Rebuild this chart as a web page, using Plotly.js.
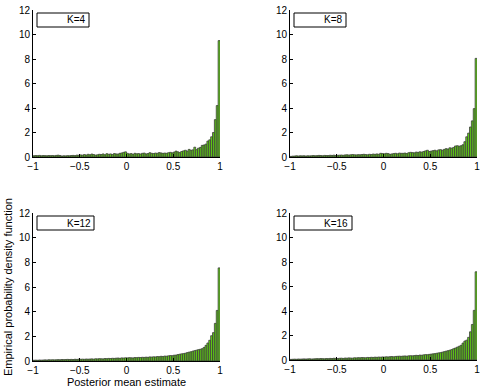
<!DOCTYPE html>
<html>
<head>
<meta charset="utf-8">
<script src="https://cdn.plot.ly/plotly-3.0.1.min.js"></script>
<style>
  html, body { margin: 0; padding: 0; background: #fff; }
  #chart { width: 485px; height: 389px; }
</style>
</head>
<body>
<div id="chart"></div>
<script>
// histogram bins: 100 bins of width 0.02 on [-1, 1]
var binStart = -0.99;
var binWidth = 0.02;

var panelLabels = ['K=4', 'K=8', 'K=12', 'K=16'];
var xTicks = [-1, -0.5, 0, 0.5, 1];
var xTickText = ['\u22121', '\u22120.5', '0', '0.5', '1'];
var yTicks = [0, 2, 4, 6, 8, 10, 12];

var densK4 = [
  0.10,0.12,0.11,0.13,0.10,0.12,0.11,0.10,0.12,0.11,
  0.12,0.10,0.13,0.15,0.12,0.08,0.10,0.09,0.11,0.10,
  0.12,0.13,0.11,0.15,0.14,0.17,0.15,0.20,0.16,0.22,
  0.18,0.24,0.20,0.15,0.18,0.22,0.20,0.25,0.18,0.27,
  0.22,0.25,0.20,0.28,0.25,0.24,0.30,0.33,0.38,0.42,
  0.30,0.25,0.28,0.22,0.30,0.26,0.28,0.24,0.30,0.32,
  0.25,0.28,0.35,0.30,0.28,0.32,0.30,0.36,0.33,0.30,
  0.32,0.30,0.35,0.38,0.34,0.40,0.48,0.42,0.36,0.45,
  0.50,0.55,0.48,0.62,0.55,0.58,0.80,0.60,0.72,0.78,
  0.95,0.98,1.05,1.30,1.40,1.65,2.00,3.05,4.20,9.50
];
var densK8 = [
  0.05,0.07,0.08,0.10,0.08,0.10,0.09,0.10,0.08,0.10,
  0.09,0.10,0.12,0.10,0.11,0.13,0.12,0.10,0.13,0.12,
  0.12,0.14,0.13,0.15,0.12,0.14,0.15,0.16,0.14,0.17,
  0.18,0.16,0.18,0.20,0.18,0.17,0.19,0.18,0.20,0.22,
  0.20,0.18,0.22,0.20,0.24,0.22,0.25,0.22,0.30,0.28,
  0.26,0.30,0.28,0.22,0.25,0.28,0.30,0.26,0.32,0.30,
  0.30,0.32,0.28,0.35,0.38,0.36,0.34,0.40,0.38,0.42,
  0.40,0.45,0.50,0.55,0.45,0.48,0.52,0.55,0.50,0.58,
  0.60,0.55,0.62,0.68,0.65,0.75,0.72,0.78,0.90,0.92,
  0.88,0.92,1.00,1.25,1.65,1.95,2.45,2.95,3.95,8.05
];
var densK12 = [
  0.06,0.07,0.06,0.08,0.07,0.08,0.09,0.08,0.10,0.09,
  0.10,0.09,0.10,0.11,0.10,0.12,0.11,0.12,0.13,0.12,
  0.13,0.12,0.14,0.13,0.15,0.14,0.15,0.14,0.16,0.15,
  0.16,0.17,0.15,0.18,0.17,0.19,0.18,0.17,0.20,0.19,
  0.21,0.20,0.22,0.21,0.23,0.24,0.22,0.25,0.24,0.26,
  0.25,0.27,0.26,0.25,0.28,0.27,0.29,0.28,0.30,0.29,
  0.31,0.30,0.33,0.32,0.34,0.33,0.36,0.35,0.38,0.37,
  0.40,0.39,0.42,0.44,0.43,0.47,0.48,0.52,0.55,0.58,
  0.60,0.63,0.68,0.72,0.75,0.80,0.84,0.88,0.92,0.95,
  1.00,1.10,1.27,1.46,1.68,2.05,2.30,3.05,4.10,7.55
];
var densK16 = [
  0.05,0.06,0.07,0.06,0.08,0.07,0.08,0.09,0.08,0.09,
  0.10,0.08,0.09,0.10,0.11,0.10,0.12,0.11,0.10,0.12,
  0.11,0.13,0.12,0.14,0.13,0.12,0.14,0.15,0.13,0.16,
  0.15,0.17,0.16,0.15,0.18,0.17,0.19,0.18,0.20,0.19,
  0.18,0.21,0.20,0.22,0.21,0.23,0.22,0.24,0.23,0.25,
  0.24,0.26,0.25,0.27,0.28,0.26,0.29,0.30,0.31,0.30,
  0.32,0.33,0.31,0.34,0.35,0.34,0.36,0.38,0.37,0.40,
  0.39,0.42,0.44,0.43,0.46,0.48,0.50,0.52,0.55,0.58,
  0.60,0.64,0.68,0.72,0.76,0.80,0.85,0.92,0.98,1.05,
  1.12,1.20,1.38,1.55,1.62,1.85,2.30,2.90,4.05,7.20
];

var allDens = [densK4, densK8, densK12, densK16];
var W = 485, H = 389;

// axes boxes in pixels: [left, right, top, bottom]
var boxes = [
  [33, 220, 10, 157],
  [290, 477, 10, 157],
  [33, 220, 213, 361],
  [290, 477, 213, 360]
];
var legendRight = [89, 346, 94, 352];

var font = {family: 'Liberation Sans, Arial, sans-serif', size: 10, color: '#000'};
var traces = [];
var layout = {
  width: W, height: H,
  margin: {l: 0, r: 0, t: 0, b: 0},
  paper_bgcolor: '#fff',
  plot_bgcolor: '#fff',
  showlegend: false,
  bargap: 0,
  font: font,
  shapes: [],
  annotations: []
};

for (var i = 0; i < 4; i++) {
  var s = i === 0 ? '' : String(i + 1);
  var b = boxes[i];
  traces.push({
    type: 'bar',
    y: allDens[i],
    x0: binStart,
    dx: binWidth,
    xaxis: 'x' + s,
    yaxis: 'y' + s,
    marker: {color: '#62d812', line: {color: '#3c3c3c', width: 0.8}},
    hoverinfo: 'none'
  });
  var common = {
    showline: true, linecolor: '#000', linewidth: 1, mirror: false,
    showgrid: false, zeroline: false,
    ticks: 'inside', ticklen: 3, tickcolor: '#000',
    tickfont: font
  };
  layout['xaxis' + s] = Object.assign({}, common, {
    domain: [b[0] / W, b[1] / W],
    range: [-1, 1],
    tickvals: xTicks, ticktext: xTickText,
    anchor: 'y' + s
  });
  layout['yaxis' + s] = Object.assign({}, common, {
    domain: [(H - b[3]) / H, (H - b[2]) / H],
    range: [0, 12],
    tickvals: yTicks,
    anchor: 'x' + s
  });
  // legend box
  layout.shapes.push({
    type: 'rect', xref: 'paper', yref: 'paper',
    x0: (b[0] + 4) / W, x1: legendRight[i] / W,
    y0: (H - b[2] - 17) / H, y1: (H - b[2] - 3) / H,
    line: {color: '#000', width: 1}, fillcolor: '#fff', layer: 'above'
  });
  layout.annotations.push({
    xref: 'paper', yref: 'paper',
    x: (b[0] + 32) / W, y: (H - b[2] - 10) / H,
    xanchor: 'left', yanchor: 'middle',
    text: panelLabels[i], showarrow: false, font: font
  });
}

layout.xaxis3.title = {
  text: 'Posterior mean estimate', standoff: 2,
  font: {family: font.family, size: 11, color: '#000'}
};
layout.annotations.push({
  xref: 'paper', yref: 'paper', x: 8 / W, y: (H - 287) / H,
  xanchor: 'center', yanchor: 'middle', textangle: -90,
  text: 'Empirical probability density function', showarrow: false,
  font: {family: font.family, size: 11, color: '#000'}
});

Plotly.newPlot('chart', traces, layout, {displayModeBar: false, staticPlot: true});
</script>
</body>
</html>
